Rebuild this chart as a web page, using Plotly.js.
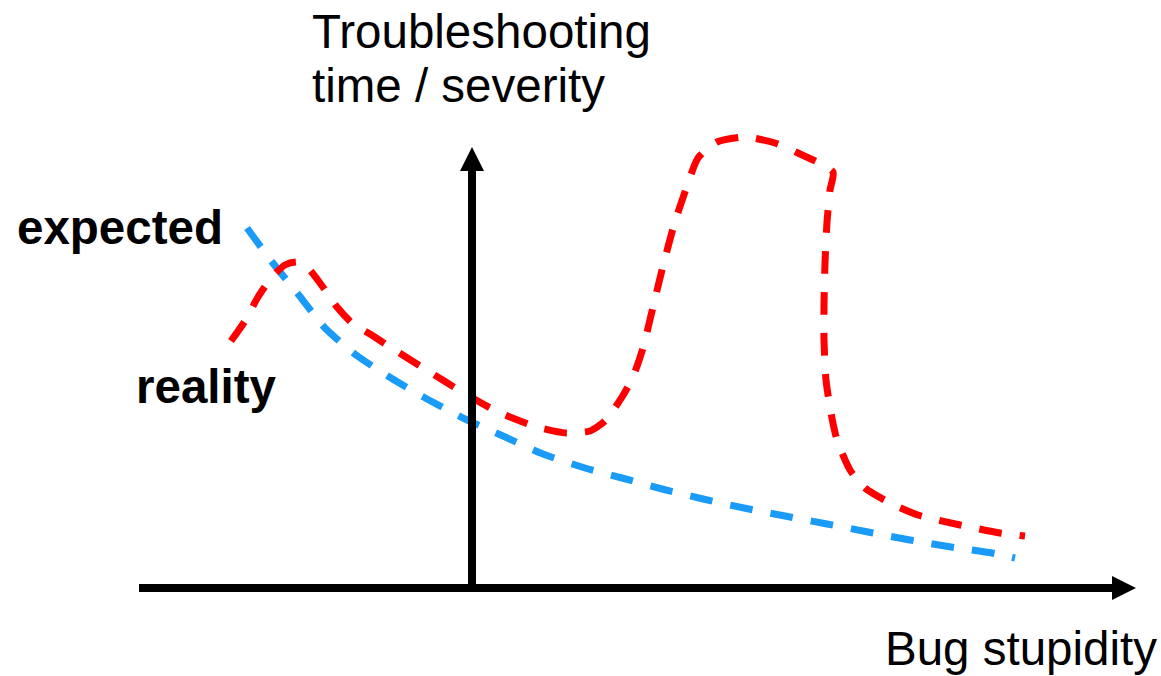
<!DOCTYPE html>
<html>
<head>
<meta charset="utf-8">
<script src="https://cdn.plot.ly/plotly-3.0.1.min.js"></script>
<style>html,body{margin:0;padding:0;background:#fff;}#chart{width:1161px;height:676px;}</style>
</head>
<body>
<div id="chart"></div>
<script>
// Values (x = bug stupidity, y = troubleshooting time, screen-down units)
const expectedX = [247, 272, 298, 325, 356, 391, 427, 465, 503, 543, 585, 622, 662, 703, 744, 785, 827, 868, 910, 951, 992, 1015];
const expectedY = [228, 262, 294, 328, 355, 378, 399, 419, 436, 454, 468, 478, 489, 499, 508, 516, 524, 532, 540, 547, 553, 558];

const realityX = [231, 245, 258, 272, 285, 297, 308, 320, 337, 353, 370, 390, 425, 462, 498, 537, 566, 590, 605, 622, 633, 643, 653, 663, 674, 687, 698, 717, 745, 775, 798, 833, 830, 827, 825, 824, 824, 826, 831, 837, 850, 865, 890, 918, 960, 1000, 1025];
const realityY = [341, 321, 297, 277, 265, 262, 268, 283, 307, 324, 334, 347, 369, 392, 412, 427, 433, 431, 421, 397, 377, 348, 307, 266, 225, 186, 158, 142, 137, 143, 153, 172, 190, 222, 263, 305, 340, 380, 413, 440, 470, 488, 503, 515, 525, 533, 536];

// axis geometry (origin and ends)
const axisOrigin = {x: 472, y: 588};
const xAxisEnd = {start: 139, tip: 1136};
const yAxisEnd = {tip: 147};

const labels = {
  yTitle1: "Troubleshooting",
  yTitle2: "time / severity",
  xTitle: "Bug stupidity",
  expected: "expected",
  reality: "reality"
};

const traces = [
  {x: expectedX, y: expectedY, mode: "lines", type: "scatter", name: "expected",
   line: {color: "#1a9bf8", width: 7, dash: "23px,18px", shape: "spline", smoothing: 0.6}, hoverinfo: "skip"},
  {x: realityX, y: realityY, mode: "lines", type: "scatter", name: "reality",
   line: {color: "#ff0000", width: 7, dash: "23px,18px", shape: "spline", smoothing: 0.6}, hoverinfo: "skip"}
];

const head = 24, half = 12;
const shapes = [
  {type: "line", xref: "x", yref: "y", x0: xAxisEnd.start, y0: axisOrigin.y, x1: xAxisEnd.tip - head, y1: axisOrigin.y, line: {color: "#000", width: 8}},
  {type: "path", xref: "x", yref: "y",
   path: `M ${xAxisEnd.tip - head} ${axisOrigin.y - half} L ${xAxisEnd.tip} ${axisOrigin.y} L ${xAxisEnd.tip - head} ${axisOrigin.y + half} Z`,
   fillcolor: "#000", line: {color: "#000", width: 0}},
  {type: "line", xref: "x", yref: "y", x0: axisOrigin.x, y0: axisOrigin.y + 4, x1: axisOrigin.x, y1: yAxisEnd.tip + head, line: {color: "#000", width: 8}},
  {type: "path", xref: "x", yref: "y",
   path: `M ${axisOrigin.x - half} ${yAxisEnd.tip + head} L ${axisOrigin.x} ${yAxisEnd.tip} L ${axisOrigin.x + half} ${yAxisEnd.tip + head} Z`,
   fillcolor: "#000", line: {color: "#000", width: 0}}
];

const fontR = {family: "Liberation Sans, Arial, Helvetica, sans-serif", size: 47.5, color: "#000"};
const fontB = {family: "Liberation Sans, Arial, Helvetica, sans-serif", size: 47.5, color: "#000", weight: "bold"};
function ann(text, x, y, font) {
  return {text: text, x: x, y: y, xref: "x", yref: "y", xanchor: "left", yanchor: "middle",
          showarrow: false, font: font, borderpad: 0};
}
const annotations = [
  ann(labels.yTitle1, 311, 31, fontR),
  ann(labels.yTitle2, 311, 85, fontR),
  ann(labels.xTitle, 884, 648, fontR),
  ann("<b>" + labels.expected + "</b>", 16, 227, fontB),
  ann("<b>" + labels.reality + "</b>", 135, 386, fontB)
];

const layout = {
  width: 1161, height: 676,
  margin: {l: 0, r: 0, t: 0, b: 0},
  paper_bgcolor: "#fff", plot_bgcolor: "#fff",
  showlegend: false,
  xaxis: {range: [0, 1161], visible: false, fixedrange: true},
  yaxis: {range: [676, 0], visible: false, fixedrange: true},
  shapes: shapes,
  annotations: annotations
};

Plotly.newPlot("chart", traces, layout, {displayModeBar: false, staticPlot: true});
</script>
</body>
</html>
